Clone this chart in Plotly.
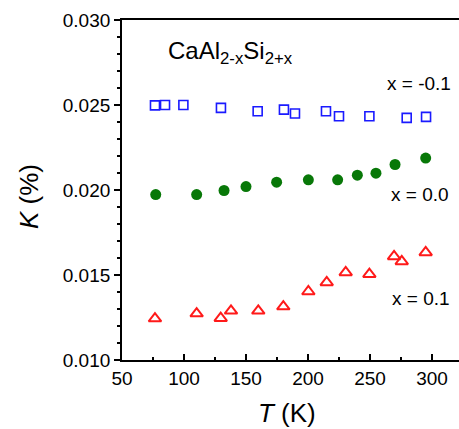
import plotly.graph_objects as go

T_m01 = [76.6, 84.7, 99.5, 129.8, 159.4, 180.6, 189.5, 214.5, 225.0, 249.5, 279.6, 295.2]
K_m01 = [0.02498, 0.02500, 0.02500, 0.02483, 0.02463, 0.02473, 0.02450, 0.02463, 0.02434, 0.02434, 0.02424, 0.02430]

T_00 = [77.2, 110.2, 132.3, 150.0, 174.7, 200.3, 223.9, 239.8, 254.8, 270.2, 294.9]
K_00 = [0.01973, 0.01973, 0.01997, 0.02020, 0.02046, 0.02060, 0.02060, 0.02087, 0.02099, 0.02150, 0.02188]

T_01 = [76.6, 110.2, 129.6, 137.9, 159.9, 180.1, 200.3, 215.1, 230.4, 249.5, 269.4, 275.6, 294.9]
K_01 = [0.01244, 0.01273, 0.01246, 0.01289, 0.01289, 0.01314, 0.01403, 0.01456, 0.01515, 0.01505, 0.01609, 0.01580, 0.01633]

FONT = "Liberation Sans, Arial, sans-serif"

fig = go.Figure()
fig.add_trace(go.Scatter(x=T_m01, y=K_m01, mode="markers",
                         marker=dict(symbol="square-open", size=9, color="#1a1aff", line=dict(width=1.6, color="#1a1aff"))))
fig.add_trace(go.Scatter(x=T_00, y=K_00, mode="markers",
                         marker=dict(symbol="circle", size=11, color="#087808")))
fig.add_trace(go.Scatter(x=T_01, y=K_01, mode="markers",
                         marker=dict(symbol="triangle-up-open", size=11, color="#ff1a1a", line=dict(width=2, color="#ff1a1a"))))

W, H = 459, 429
L, R, TP, B = 122, 0, 20, 69
pw, ph = W - L - R, H - TP - B

ann = [
    dict(x=166, y=53, text="CaAl<sub>2-x</sub>Si<sub>2+x</sub>", size=24, xanchor="left", angle=0),
    dict(x=453, y=83, text="x = -0.1", size=19, xanchor="right", angle=0),
    dict(x=451, y=195, text="x = 0.0", size=19, xanchor="right", angle=0),
    dict(x=452, y=298, text="x = 0.1", size=19, xanchor="right", angle=0),
    dict(x=287, y=413, text="<i>T</i> (K)", size=26, xanchor="center", angle=0),
    dict(x=29, y=197, text="<i>K</i> (%)", size=26, xanchor="center", angle=-90),
]
annotations = []
for a in ann:
    annotations.append(dict(
        x=(a["x"] - L) / pw, y=1 - (a["y"] - TP) / ph, xref="paper", yref="paper",
        text=a["text"], showarrow=False, textangle=a["angle"],
        font=dict(family=FONT, color="black", size=a["size"]),
        xanchor=a["xanchor"], yanchor="middle"))

fig.update_layout(
    width=W, height=H,
    margin=dict(l=L, r=R, t=TP, b=B),
    paper_bgcolor="white", plot_bgcolor="white",
    showlegend=False,
    font=dict(family=FONT, color="black", size=19),
    annotations=annotations,
    xaxis=dict(range=[50, 50 + pw / 62 * 50], tickvals=[50, 100, 150, 200, 250, 300],
               ticks="inside", ticklen=6, tickwidth=1.5, tickcolor="black",
               minor=dict(tickvals=[75, 125, 175, 225, 275], ticks="inside", ticklen=3, tickcolor="black", tickwidth=1.5),
               showline=True, linecolor="black", linewidth=1.8, mirror=True,
               showgrid=False, zeroline=False,
               tickfont=dict(size=19)),
    yaxis=dict(range=[0.010, 0.030], tickvals=[0.010, 0.015, 0.020, 0.025, 0.030],
               ticktext=["0.010", "0.015", "0.020", "0.025", "0.030"],
               ticks="outside", ticklen=6, tickwidth=1.5, tickcolor="black",
               minor=dict(dtick=0.001, ticks="outside", ticklen=3, tickcolor="black", tickwidth=1.5),
               showline=True, linecolor="black", linewidth=1.8,
               showgrid=False, zeroline=False,
               tickfont=dict(size=19)),
)

fig.write_html("out.html")
